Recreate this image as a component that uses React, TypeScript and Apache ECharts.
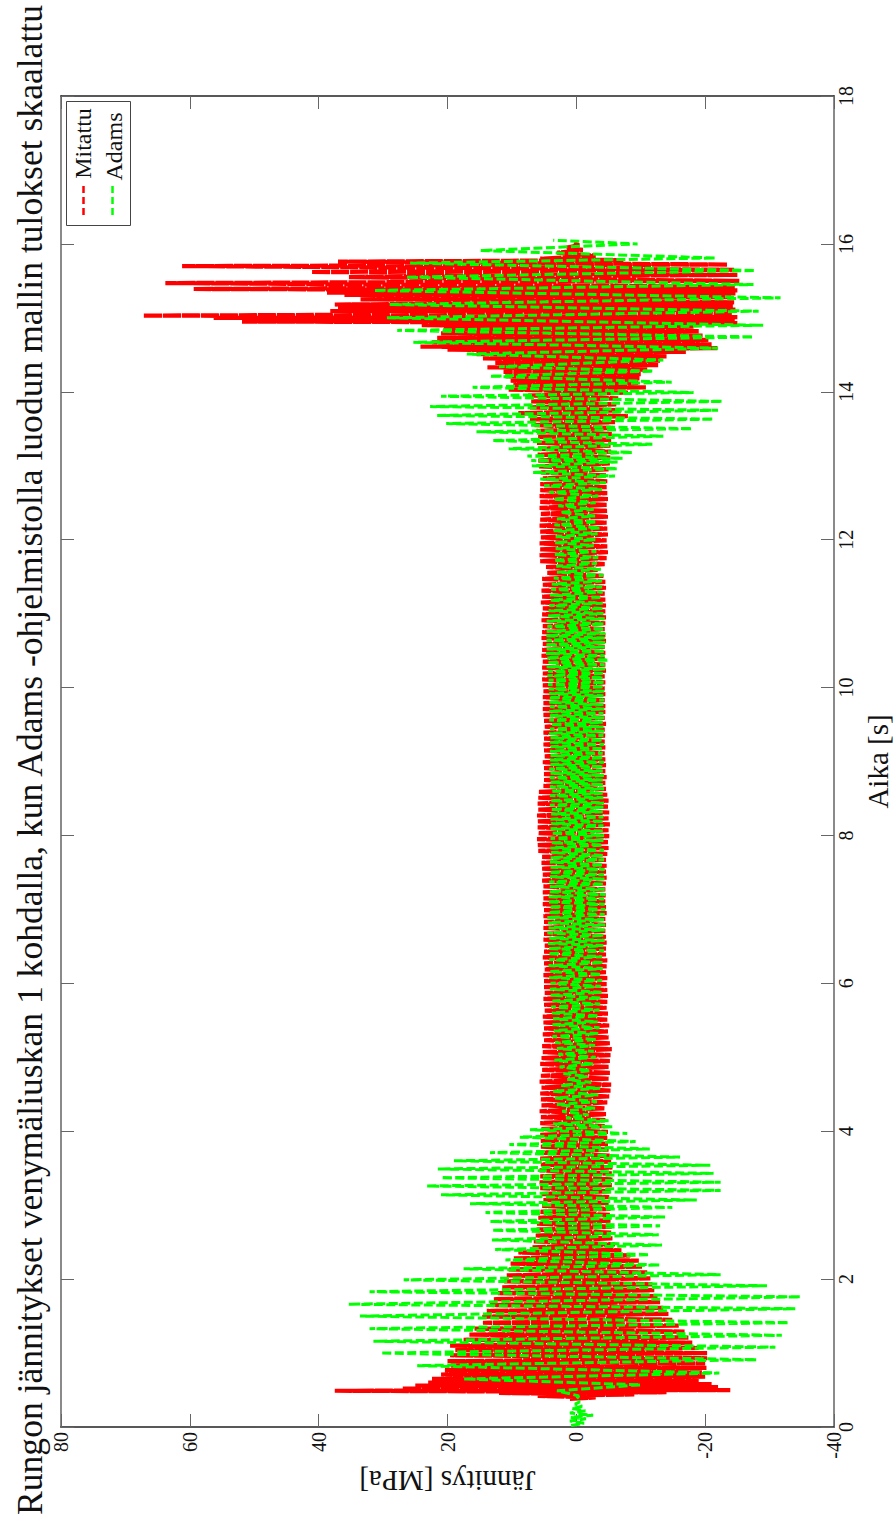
import React, { useEffect, useRef } from "react";
import * as echarts from "echarts";

const titleText = "Rungon jännitykset venymäliuskan 1 kohdalla, kun Adams -ohjelmistolla luodun mallin tulokset skaalattu";
const timeName = "Aika [s]";
const stressName = "Jännitys [MPa]";
const seriesNames = ["Mitattu", "Adams"];

// [stress MPa, time s] peaks
const mitattu: number[][] = [
[1,0.38],[-3,0.40],[6,0.42],[-9,0.44],[12,0.46],[-14,0.47],[37.5,0.49],[-23.9,0.50],[27,0.52],[-22,0.54],[25,0.56],[-21,0.58],[23,0.60],[-19,0.62],[22.4,0.65],[-20,0.68],[21,0.71],[-19.5,0.74],[20.4,0.77],[-20.2,0.80],[19.5,0.83],[-20,0.86],[20,0.89],[-20.3,0.93],[19.6,0.97],[-20.3,1.00],[18.8,1.04],[-19,1.07],[19.6,1.10],[-18,1.14],[17.5,1.18],[-17.4,1.21],[16.6,1.25],[-16.8,1.29],[15.8,1.33],[-15.9,1.37],[14.5,1.41],[-14.9,1.45],[14.6,1.49],[-14.3,1.53],[13.9,1.57],[-13.5,1.61],[13.4,1.65],[-13,1.69],[12.8,1.73],[-12.6,1.77],[12.2,1.81],[-12.1,1.85],[11.5,1.89],[-11.8,1.93],[11.2,1.97],[-11.5,2.01],[10.8,2.05],[-11,2.09],[10.5,2.13],[-10.2,2.17],[10.2,2.21],[-9.7,2.25],[9.7,2.28],[-8.4,2.32],[9,2.36],[-7,2.39],[6.8,2.43],[-6,2.47],[6.6,2.51],[-5.6,2.55],[6.3,2.59],[-5.4,2.63],[6.2,2.67],[-5.5,2.71],[6.1,2.75],[-5.3,2.79],[5.9,2.83],[-5.2,2.87],[5.6,2.91],[-5.3,2.95],[5.3,2.99],[-5,3.03],[5.1,3.07],[-5.1,3.11],[5.4,3.15],[-5.3,3.19],[5.6,3.23],[-5.5,3.27],[5.7,3.31],[-5.6,3.35],[5.6,3.39],[-5.5,3.43],[5.7,3.47],[-5.6,3.51],[5.5,3.55],[-5.4,3.59],[5.6,3.63],[-5.2,3.67],[5.7,3.71],[-5,3.75],[5.5,3.79],[-4.9,3.83],[5.6,3.87],[-4.8,3.91],[5.6,3.95],[-4.9,3.99],
[5.4,4.03],[-4.4,4.07],[5.6,4.11],[-4.5,4.15],[5.5,4.19],[-4.6,4.23],[5.7,4.27],[-4.4,4.31],[5.4,4.35],[-4.8,4.39],[5.5,4.43],[-5.1,4.47],[5.6,4.51],[-5.3,4.55],[5.4,4.59],[-5.4,4.63],[5.7,4.67],[-5,4.71],[5.5,4.75],[-5.2,4.79],[5.3,4.83],[-5,4.87],[5.6,4.91],[-5.2,4.95],[5.4,4.99],[-5.3,5.03],[5.2,5.07],[-5.5,5.11],[5.3,5.15],[-5.2,5.19],[5,5.23],[-5,5.27],[5.2,5.31],[-4.9,5.35],[5,5.39],[-5.1,5.43],[5.1,5.47],[-4.8,5.51],[5.2,5.55],[-4.9,5.59],[4.9,5.63],[-4.7,5.67],[5,5.71],[-4.8,5.75],[5.1,5.79],[-4.9,5.83],[4.9,5.87],[-4.8,5.91],[5,5.95],[-4.7,5.99],[5,6.03],[-4.8,6.07],[5.1,6.11],[-4.6,6.15],[4.9,6.19],[-4.7,6.23],[5,6.27],[-4.8,6.31],[5.2,6.35],[-4.6,6.39],[5,6.43],[-4.6,6.47],[4.9,6.51],[-4.7,6.55],[5.1,6.59],[-4.6,6.63],[5,6.67],[-4.5,6.71],[5.1,6.75],[-4.6,6.79],[5,6.83],[-4.5,6.87],[5.1,6.91],[-4.7,6.95],[5,6.99],[-4.6,7.03],[5.2,7.07],[-4.5,7.11],[5.1,7.15],[-4.6,7.19],[5.2,7.23],[-4.5,7.27],[5.1,7.31],[-4.6,7.35],[5.3,7.39],[-4.7,7.43],[5.2,7.47],[-4.6,7.51],[5.3,7.55],[-4.7,7.59],[5.4,7.63],[-4.6,7.67],[5.3,7.71],[-4.8,7.75],[5.9,7.79],[-5,7.83],[6,7.87],[-4.9,7.91],[6.1,7.95],[-5.1,7.99],[5.9,8.03],[-5,8.07],[6,8.11],[-5.2,8.15],[6,8.19],[-5,8.23],[6.1,8.27],[-5.1,8.31],[5.9,8.35],[-4.9,8.39],[6,8.43],[-5,8.47],[5.9,8.51],[-4.8,8.55],[5.8,8.59],[-4.6,8.63],[5.1,8.67],[-4.5,8.71],[5,8.75],[-4.7,8.79],[5.1,8.83],[-4.5,8.87],[5,8.91],[-4.6,8.95],[5.2,8.99],[-4.5,9.03],[4.9,9.07],[-4.4,9.11],[5,9.15],[-4.5,9.19],[5.1,9.23],[-4.4,9.27],[5,9.31],[-4.5,9.35],[5.1,9.39],[-4.4,9.43],[4.9,9.47],[-4.6,9.51],[5,9.55],[-4.4,9.59],[5.1,9.63],[-4.5,9.67],[5.2,9.71],[-4.5,9.75],[5.1,9.79],[-4.4,9.83],[5.2,9.87],[-4.5,9.91],[5.1,9.95],[-4.4,9.99],[5.2,10.03],[-4.5,10.07],[5.3,10.11],[-4.4,10.15],[5.2,10.19],[-4.6,10.23],[5.3,10.27],[-4.5,10.31],[5.2,10.35],[-4.4,10.39],[5.4,10.43],[-4.5,10.47],[5.3,10.51],[-4.4,10.55],[5.2,10.59],[-4.6,10.63],[5.4,10.67],[-4.5,10.71],[5.3,10.75],[-4.4,10.79],[5.2,10.83],[-4.5,10.87],[5.4,10.91],[-4.6,10.95],[5.3,10.99],[-4.5,11.03],[5.2,11.07],[-4.6,11.11],[5.5,11.15],[-4.5,11.19],[5.3,11.23],[-4.4,11.27],[5.4,11.31],[-4.6,11.35],[5.2,11.39],[-4.5,11.43],[5.3,11.47],[-4.2,11.51],[4.5,11.55],[-3.3,11.59],[4.7,11.63],[-4.4,11.67],[5.6,11.71],[-4.7,11.75],[5.7,11.79],[-4.9,11.83],[5.6,11.87],[-4.8,11.91],[5.7,11.95],[-4.7,11.99],[5.5,12.03],[-4.9,12.07],[5.6,12.11],[-4.8,12.15],[5.7,12.19],[-4.7,12.23],[5.6,12.27],[-4.9,12.31],[5.5,12.35],[-4.8,12.39],[5.7,12.43],[-4.7,12.47],[5.6,12.51],[-4.9,12.55],[5.7,12.59],[-4.8,12.63],[5.6,12.67],[-4.7,12.71],[5.6,12.75],[-4.8,12.79],
[5.2,12.83],[-4.6,12.87],[5.5,12.91],[-5,12.95],[5.8,12.99],[-5.2,13.03],[5.9,13.07],[-5.3,13.11],[6,13.15],[-5.4,13.19],[5.9,13.23],[-5.3,13.27],[6.1,13.31],[-5.4,13.35],[6,13.39],[-5.5,13.43],[6.2,13.47],[-5.7,13.51],[6.5,13.55],[-6,13.59],[7.2,13.63],[-8,13.67],[9,13.71],[-7,13.75],[7.2,13.79],[-6.2,13.83],[7,13.87],[-6.5,13.91],[7.5,13.95],[-8,13.99],[10.5,14.03],[-10.8,14.06],[9.8,14.09],[-9.6,14.12],[10.2,14.15],[-9.8,14.18],[11,14.21],[-10,14.24],[11.3,14.27],[-11,14.30],[13.8,14.33],[-12.7,14.36],[12.6,14.39],[-13,14.42],[14.5,14.45],[-14,14.48],[15.5,14.51],[-17,14.54],[20,14.57],[-21.9,14.59],[24.2,14.61],[-21,14.64],[22.4,14.67],[-20.5,14.70],[21.6,14.73],[-19.6,14.76],[21,14.79],[-19,14.82],[20.6,14.85],[-18.2,14.88],[24,14.90],[-25,14.93],[51.9,14.95],[-24.6,14.97],[56.3,15.0],[-25,15.01],[67.2,15.03],[-24.2,15.06],[38.2,15.09],[-24.7,15.11],[37,15.14],[-24.3,15.16],[37.5,15.18],[-24.5,15.21],[33.5,15.25],[-24,15.28],[36,15.31],[-24.7,15.33],[38.7,15.34],[-25,15.37],[59.4,15.39],[-24.6,15.42],[63.8,15.47],[-25.3,15.50],[35.3,15.55],[-25,15.58],[41.1,15.62],[-24.5,15.65],[61.2,15.70],[-23.4,15.72],[37,15.76],[-7.3,15.78],[5.6,15.80],[-3,15.84],[3,15.88],[-1,15.92],[1.5,15.95],[-0.4,15.98],[0.5,16.02]
];

const adams: number[][] = [
[0.8,0.02],[-1.2,0.05],[1,0.08],[-1.5,0.11],[0.9,0.13],[-2.6,0.16],[1,0.19],[-1.4,0.22],[0.7,0.25],[-0.9,0.28],[0.2,0.31],[-0.5,0.34],[0,0.38],[-0.4,0.42],[3,0.49],[-10,0.57],[17.5,0.65],[-22.2,0.73],[24.7,0.83],[-28,0.91],[30.4,1.0],[-30.9,1.08],[31.5,1.16],[-31.9,1.24],[32.1,1.33],[-33,1.41],[33.6,1.5],[-34,1.6],[35.4,1.66],[-34.8,1.76],[32.1,1.83],[-29.6,1.91],[26.8,1.99],[-22.4,2.06],[17.5,2.14],[-13,2.19],[11,2.26],[-11.4,2.33],[12.6,2.4],[-13.3,2.46],[13.1,2.53],[-12.8,2.6],[13.1,2.66],[-13,2.72],[13.4,2.78],[-13.8,2.84],[14.1,2.9],[-14.9,2.97],[16.5,3.02],[-18.7,3.07],[21,3.14],[-22.4,3.2],[23.2,3.26],[-22.4,3.31],[21,3.37],[-21.3,3.43],[21.5,3.49],[-20.8,3.54],[19,3.6],[-16.1,3.65],[13.4,3.71],[-11.4,3.76],[10.4,3.82],[-9.2,3.86],[8.8,3.92],[-7.9,3.97],[7.2,4.02],[-5.7,4.06],
[3.6,4.10],[-5,4.14],[1.6,4.18],[-1.9,4.22],[2.2,4.27],[-2.9,4.31],[3,4.36],[-3.2,4.40],[3.3,4.45],[-3.4,4.49],[3.7,4.54],[-3.7,4.58],[2.4,4.62],[-2.3,4.66],[1.4,4.70],[-1.7,4.74],[2,4.78],[-2.2,4.82],[2.6,4.87],[-2.6,4.91],[3.4,4.96],[-3,5.0],[2.8,5.04],[-2.7,5.08],[3,5.12],[-2.9,5.16],[3.3,5.2],[-3.2,5.24],[3.7,5.28],[-3.4,5.32],[3.5,5.36],[-3.6,5.4],[3.7,5.44],[-3.3,5.48],[3.6,5.52],[-3.5,5.56],[3.8,5.6],[-3.6,5.64],[3.9,5.68],[-3.7,5.72],[3.7,5.76],[-3.8,5.8],[4,5.84],[-3.9,5.88],[4.1,5.92],[-3.8,5.96],[4,6.0],[-4,6.04],[4.2,6.08],[-3.9,6.12],[4.1,6.16],[-4.1,6.2],[4.3,6.24],[-4.2,6.28],[4.2,6.32],[-4,6.36],[4.4,6.4],[-4.3,6.44],[4.3,6.47],[-4.2,6.51],[4.4,6.54],[-4.4,6.58],[4.2,6.61],[-4.3,6.65],[4.5,6.68],[-4.4,6.72],[4.3,6.75],[-4.5,6.79],[4.4,6.82],[-4.3,6.86],[4.5,6.89],[-4.4,6.93],[4.3,6.96],[-4.5,7.0],[4.2,7.03],[-4.4,7.07],[4.4,7.1],[-4.3,7.14],[4.3,7.17],[-4.5,7.2],[4.2,7.24],[-4.4,7.27],[4.1,7.31],[-4.3,7.34],[4.2,7.37],[-4.4,7.41],[4.1,7.44],[-4.3,7.47],[4.2,7.5],[-4.4,7.54],[4,7.57],[-4.2,7.6],[4.1,7.64],[-4.3,7.67],[4,7.7],[-4.2,7.73],[3.9,7.77],[-4.3,7.8],[4,7.83],[-4.1,7.87],[3.9,7.9],[-4.2,7.93],[4,7.96],[-4.3,8.0],[3.9,8.03],[-4.1,8.06],[4,8.09],[-4.2,8.13],[3.9,8.16],[-4.3,8.19],[4,8.22],[-4.2,8.25],[3.9,8.29],[-4.1,8.32],[4,8.35],[-4.2,8.38],[4.1,8.41],[-4.3,8.44],[4,8.47],[-4.2,8.51],[4.1,8.54],[-4.1,8.57],[4,8.6],[-4.3,8.63],[4.1,8.66],[-4.2,8.69],[4,8.72],[-4.1,8.75],[4.1,8.78],[-4.3,8.81],[4,8.84],[-4.1,8.87],[4.2,8.9],[-4.2,8.93],[4,8.96],[-4.3,8.99],[4.1,9.02],[-4.2,9.05],[4,9.08],[-4.1,9.11],[4.1,9.14],[-4.2,9.17],[4,9.2],[-4.3,9.23],[4.1,9.26],[-4.1,9.29],[4,9.32],[-4.2,9.35],[4.2,9.38],[-4.3,9.41],[4.1,9.44],[-4.2,9.47],[4,9.5],[-4.1,9.53],[4.2,9.56],[-4.3,9.59],[4.1,9.62],[-4.2,9.65],[4.2,9.68],[-4.3,9.71],[4.1,9.74],[-4.2,9.77],[4.2,9.8],[-4.3,9.83],[4.3,9.86],[-4.2,9.89],[4.2,9.92],[-4.4,9.95],[4.3,9.98],[-4.3,10.01],[4.4,10.04],[-4.4,10.07],[4.3,10.1],[-4.2,10.13],[4.5,10.16],[-4.4,10.19],[4.4,10.22],[-4.5,10.25],[4.6,10.28],[-4.4,10.31],[4.5,10.34],[-5,10.37],[4.6,10.4],[-4.4,10.43],[4.7,10.46],[-4.5,10.49],[4.6,10.52],[-4.4,10.55],[4.8,10.58],[-4.5,10.61],[4.6,10.64],[-4.4,10.67],[4.7,10.7],[-4.5,10.73],[4.6,10.76],[-4.4,10.79],[4.5,10.83],[-4.3,10.86],[4.6,10.9],[-4.4,10.93],[4.4,10.97],[-4.2,11.0],[4.3,11.04],[-4.2,11.07],[4.2,11.11],[-4.1,11.14],[4,11.18],[-4,11.22],[4.1,11.25],[-4.1,11.29],[3.9,11.33],[-4,11.36],[3.8,11.4],[-4,11.44],[3.5,11.48],[-4.2,11.52],[3,11.56],[-3.8,11.6],[3.1,11.64],[-3.2,11.68],[3.5,11.72],[-3.4,11.76],[3.4,11.8],[-3.1,11.84],[3.2,11.88],[-2.7,11.92],[3.3,11.96],[-3,12.0],[3.2,12.04],[-3.3,12.08],[3.5,12.12],[-3.7,12.16],[3.4,12.2],[-3.2,12.24],[3,12.28],[-2.9,12.32],[2.5,12.37],[-2.7,12.41],[2.8,12.46],[-3,12.5],[3.6,12.55],[-3.4,12.59],[4.2,12.64],[-4,12.68],[5,12.73],[-4.6,12.77],[5.6,12.82],[-6,12.86],
[6.7,12.91],[-6.4,12.96],[6.9,13.0],[-6.4,13.05],[7,13.07],[-7.2,13.1],[7.6,13.13],[-8.7,13.18],[10.5,13.23],[-11.8,13.29],[13,13.34],[-13.5,13.4],[15.5,13.46],[-18,13.5],[20.2,13.57],[-21.3,13.63],[21.6,13.68],[-22,13.75],[22.7,13.8],[-22.7,13.87],[21,13.94],[-18.2,13.99],[16.1,14.06],[-14.8,14.13],[13.4,14.21],[-12,14.28],[12,14.34],[-13.5,14.43],[17,14.51],[-22,14.59],[25.3,14.67],[-27.5,14.74],[27.8,14.83],[-29,14.9],[29.4,15.0],[-28.3,15.09],[29,15.18],[-31.7,15.27],[31.4,15.37],[-27.5,15.45],[26.4,15.55],[-27.8,15.64],[25.8,15.74],[-21.6,15.81],[14.9,15.91],[-9.5,16.0],[3.6,16.05]
];

const RED = "#ff0000";
const GREEN = "#00ff00";

function rotatedText(text: string, x: number, y: number, fontSize: number) {
  return {
    type: "text",
    x,
    y,
    rotation: Math.PI / 2,
    silent: true,
    z: 50,
    style: {
      text,
      fontFamily: "Liberation Serif",
      fontSize,
      fill: "#111",
      textAlign: "center",
      textVerticalAlign: "middle",
    },
  };
}

function legendDash(x: number, color: string) {
  return {
    type: "line",
    silent: true,
    z: 50,
    shape: { x1: x, y1: 215, x2: x, y2: 183 },
    style: { stroke: color, lineWidth: 2.5, lineDash: [7, 4] },
  };
}

export default function App() {
  const ref = useRef<HTMLDivElement>(null);
  useEffect(() => {
    if (!ref.current) return;
    const chart = echarts.init(ref.current, null, { renderer: "svg" });
    const labelFont = { fontFamily: "Liberation Serif", fontSize: 20, color: "#111" };
    const nameFont = { fontFamily: "Liberation Serif", fontSize: 29, color: "#111" };
    const darkLine = { lineStyle: { color: "#222", width: 1.5 } };
    const greyLine = { lineStyle: { color: "#8a8a8a", width: 2 } };
    const tick = { show: true, inside: true, length: 13, lineStyle: { color: "#666", width: 1 } };
    chart.setOption({
      animation: false,
      backgroundColor: "#fff",
      grid: { left: 61, right: 62, top: 96, bottom: 97, containLabel: false, outerBoundsMode: "none" },
      xAxis: [
        {
          type: "value", position: "bottom", inverse: true, min: -40, max: 80, interval: 20,
          name: stressName, nameLocation: "middle", nameRotate: 180, nameGap: 38, nameTextStyle: nameFont,
          axisLine: { show: true, onZero: false, ...darkLine }, axisTick: tick,
          axisLabel: { ...labelFont, rotate: 90, margin: 5, hideOverlap: false },
          splitLine: { show: false },
        },
        {
          type: "value", position: "top", inverse: true, min: -40, max: 80, interval: 20,
          axisLine: { show: true, onZero: false, ...darkLine }, axisTick: tick,
          axisLabel: { show: false }, splitLine: { show: false },
        },
      ],
      yAxis: [
        {
          type: "value", position: "right", min: 0, max: 18, interval: 2,
          name: timeName, nameLocation: "middle", nameRotate: 90, nameGap: 24, nameTextStyle: nameFont,
          axisLine: { show: true, onZero: false, ...greyLine }, axisTick: tick,
          axisLabel: { ...labelFont, rotate: 90, margin: 2, hideOverlap: false },
          splitLine: { show: false },
        },
        {
          type: "value", position: "left", min: 0, max: 18, interval: 2,
          axisLine: { show: true, onZero: false, ...greyLine }, axisTick: tick,
          axisLabel: { show: false }, splitLine: { show: false },
        },
      ],
      series: [
        {
          name: seriesNames[0], type: "line", data: mitattu, xAxisIndex: 0, yAxisIndex: 0,
          symbol: "none", lineStyle: { color: RED, width: 4.2, type: [18, 1], join: "bevel" }, z: 2,
        },
        {
          name: seriesNames[1], type: "line", data: adams, xAxisIndex: 0, yAxisIndex: 0,
          symbol: "none", lineStyle: { color: GREEN, width: 3, type: [9, 3.5], join: "bevel" }, z: 3,
        },
      ],
      graphic: [
        rotatedText(titleText, 30, 760, 35.6),
        {
          type: "rect", silent: true, z: 49,
          shape: { x: 66.5, y: 101.5, width: 64, height: 124 },
          style: { fill: "#fff", stroke: "#444", lineWidth: 1 },
        },
        legendDash(83.5, RED),
        legendDash(112.5, GREEN),
        rotatedText(seriesNames[0], 83, 143.5, 24),
        rotatedText(seriesNames[1], 114, 146.5, 24),
      ],
    });
    return () => chart.dispose();
  }, []);
  return <div ref={ref} style={{ position: "absolute", left: 0, top: 0, width: 896, height: 1524 }} />;
}
